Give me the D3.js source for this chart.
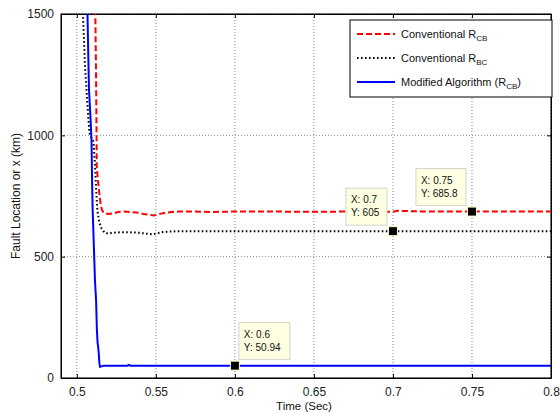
<!DOCTYPE html>
<html>
<head>
<meta charset="utf-8">
<script src="https://cdn.jsdelivr.net/npm/d3@7"></script>
<style>
  body { margin: 0; background: #fff; }
  text { font-family: "Liberation Sans", Arial, sans-serif; }
</style>
</head>
<body>
<div id="chart"></div>
<script>
// series (time in s, fault location in km)
var timeRCB = [0.5117, 0.5119, 0.5121, 0.5123, 0.5125, 0.5126, 0.5133, 0.5141, 0.5150, 0.5158, 0.5170, 0.520, 0.523, 0.526, 0.530, 0.534, 0.538, 0.542, 0.546, 0.549, 0.552, 0.556, 0.560, 0.565, 0.575, 0.585, 0.600, 0.620, 0.650, 0.675, 0.700, 0.703, 0.720, 0.750, 0.800];
var locRCB  = [1520, 1400, 1300, 1150, 1000, 870, 820, 770, 720, 695, 680, 676, 678, 684, 686, 684, 682, 676, 672, 670, 675, 681, 684, 686, 686, 684, 686, 686, 685, 686, 685, 689, 686, 685.8, 686];

var timeRBC = [0.5037, 0.5045, 0.5052, 0.5067, 0.5080, 0.5095, 0.5105, 0.5115, 0.5122, 0.5130, 0.5143, 0.5157, 0.5175, 0.5197, 0.522, 0.526, 0.530, 0.535, 0.540, 0.545, 0.548, 0.551, 0.555, 0.560, 0.570, 0.600, 0.700, 0.800];
var locRBC  = [1520, 1400, 1280, 1130, 1010, 985, 975, 880, 780, 690, 640, 615, 600, 595, 598, 600, 601, 600, 598, 594, 592, 597, 602, 604, 605, 605, 605, 605];

var timeMod = [0.5067, 0.5072, 0.5077, 0.5086, 0.5093, 0.5097, 0.5100, 0.5107, 0.5115, 0.5122, 0.5127, 0.5131, 0.5138, 0.5143, 0.5147, 0.5152, 0.5170, 0.5320, 0.5330, 0.5340, 0.8000];
var locMod  = [1520, 1350, 1190, 1080, 980, 800, 700, 560, 400, 320, 200, 150, 110, 60, 46, 47, 50.9, 50.9, 54, 50.9, 50.94];

var xTicks = [0.5, 0.55, 0.6, 0.65, 0.7, 0.75, 0.8];
var yTicks = [0, 500, 1000, 1500];

var tipX = [0.6, 0.7, 0.75];
var tipY = [50.94, 605, 685.8];
var tipLabelX = ["0.6", "0.7", "0.75"];
var tipLabelY = ["50.94", "605", "685.8"];

var svgW = 560, svgH = 416;
var margin = { top: 14, right: 9, bottom: 38, left: 61 };
var w = svgW - margin.left - margin.right;
var h = svgH - margin.top - margin.bottom;

var svg = d3.select("#chart").append("svg")
    .attr("width", svgW).attr("height", svgH);

var g = svg.append("g")
    .attr("transform", `translate(${margin.left}, ${margin.top})`);

var x = d3.scaleLinear().domain([0.49, 0.8]).range([0, w]);
var y = d3.scaleLinear().domain([0, 1500]).range([h, 0]);

svg.append("defs").append("clipPath").attr("id", "plotclip")
  .append("rect").attr("width", w).attr("height", h);

// grid
g.selectAll(".gx").data(xTicks).enter().append("line")
    .attr("x1", d => x(d)).attr("x2", d => x(d))
    .attr("y1", 0).attr("y2", h)
    .attr("stroke", "#555").attr("stroke-width", 0.7).attr("stroke-dasharray", "1,2");
g.selectAll(".gy").data(yTicks).enter().append("line")
    .attr("x1", 0).attr("x2", w)
    .attr("y1", d => y(d)).attr("y2", d => y(d))
    .attr("stroke", "#555").attr("stroke-width", 0.7).attr("stroke-dasharray", "1,2");

// axes (ticks inward, box all round)
g.append("g").attr("transform", `translate(0, ${h})`)
    .call(d3.axisBottom(x).tickValues(xTicks).tickSizeInner(-4).tickSizeOuter(0).tickPadding(9).tickFormat(d => String(d)));
g.append("g")
    .call(d3.axisTop(x).tickValues(xTicks).tickSizeInner(-4).tickSizeOuter(0).tickFormat(""));
g.append("g")
    .call(d3.axisLeft(y).tickValues(yTicks).tickSizeInner(-4).tickSizeOuter(0).tickPadding(7).tickFormat(d3.format("d")));
g.append("g").attr("transform", `translate(${w}, 0)`)
    .call(d3.axisRight(y).tickValues(yTicks).tickSizeInner(-4).tickSizeOuter(0).tickFormat(""));

g.selectAll(".tick text").attr("font-size", 12).attr("fill", "#222")
    .attr("font-family", "Liberation Sans, Arial, sans-serif");
g.selectAll(".domain").attr("stroke", "#000");
g.append("rect").attr("width", w).attr("height", h)
    .attr("fill", "none").attr("stroke", "#000").attr("stroke-width", 1);

// lines
var line = d3.line().x(d => x(d[0])).y(d => y(d[1]));
var plot = g.append("g").attr("clip-path", "url(#plotclip)");

plot.append("path").datum(d3.zip(timeRBC, locRBC))
    .attr("d", line).attr("fill", "none")
    .attr("stroke", "#000").attr("stroke-width", 2).attr("stroke-dasharray", "1.6,2.4");
plot.append("path").datum(d3.zip(timeRCB, locRCB))
    .attr("d", line).attr("fill", "none")
    .attr("stroke", "#ff0000").attr("stroke-width", 2).attr("stroke-dasharray", "6,3");
plot.append("path").datum(d3.zip(timeMod, locMod))
    .attr("d", line).attr("fill", "none")
    .attr("stroke", "#0000ff").attr("stroke-width", 2);

// data tips
var tips = d3.zip(tipX, tipY, tipLabelX, tipLabelY);
var boxW = [51, 41, 50];
tips.forEach(function(t, i) {
    var px = x(t[0]), py = y(t[1]);
    var bx = i === 0 ? px + 4 : px - 6 - boxW[i];
    var by = py - 6 - 37;
    g.append("rect").attr("x", bx).attr("y", by).attr("width", boxW[i]).attr("height", 37)
        .attr("fill", "#ffffe1").attr("stroke", "#d4d4cc").attr("stroke-width", 1);
    g.append("text").attr("x", bx + 5).attr("y", by + 15).attr("font-size", 10)
        .attr("fill", "#111").text("X: " + t[2]);
    g.append("text").attr("x", bx + 5).attr("y", by + 28).attr("font-size", 10)
        .attr("fill", "#111").text("Y: " + t[3]);
    g.append("rect").attr("x", px - 4.5).attr("y", py - 4.5).attr("width", 9).attr("height", 9)
        .attr("fill", "#000").attr("stroke", "#ffffc8").attr("stroke-width", 1);
});

// legend
var legNames = ["Conventional R", "Conventional R", "Modified Algorithm (R"];
var legSubs = ["CB", "BC", "CB"];
var legTail = ["", "", ")"];
var legColors = ["#ff0000", "#000", "#0000ff"];
var legDash = ["6,3", "1.6,2.4", null];
var leg = svg.append("g").attr("transform", "translate(350, 20)");
leg.append("rect").attr("width", 202).attr("height", 77)
    .attr("fill", "#fff").attr("stroke", "#000").attr("stroke-width", 1);
legNames.forEach(function(n, i) {
    var ly = 14 + i * 24;
    leg.append("line").attr("x1", 7).attr("x2", 45).attr("y1", ly).attr("y2", ly)
        .attr("stroke", legColors[i]).attr("stroke-width", 2)
        .attr("stroke-dasharray", legDash[i]);
    var t = leg.append("text").attr("x", 51).attr("y", ly + 4).attr("font-size", 11).attr("fill", "#111");
    t.append("tspan").text(n);
    t.append("tspan").attr("font-size", 8).attr("dy", 3).text(legSubs[i]);
    if (legTail[i]) t.append("tspan").attr("dy", -3).text(legTail[i]);
});

// axis labels
svg.append("text").attr("x", margin.left + w / 2 - 2).attr("y", 410)
    .attr("text-anchor", "middle").attr("font-size", 11.5).attr("fill", "#111").text("Time (Sec)");
svg.append("text").attr("transform", `translate(20, ${margin.top + h / 2}) rotate(-90)`)
    .attr("text-anchor", "middle").attr("font-size", 12).attr("fill", "#111").text("Fault Location or x (km)");
</script>
</body>
</html>
